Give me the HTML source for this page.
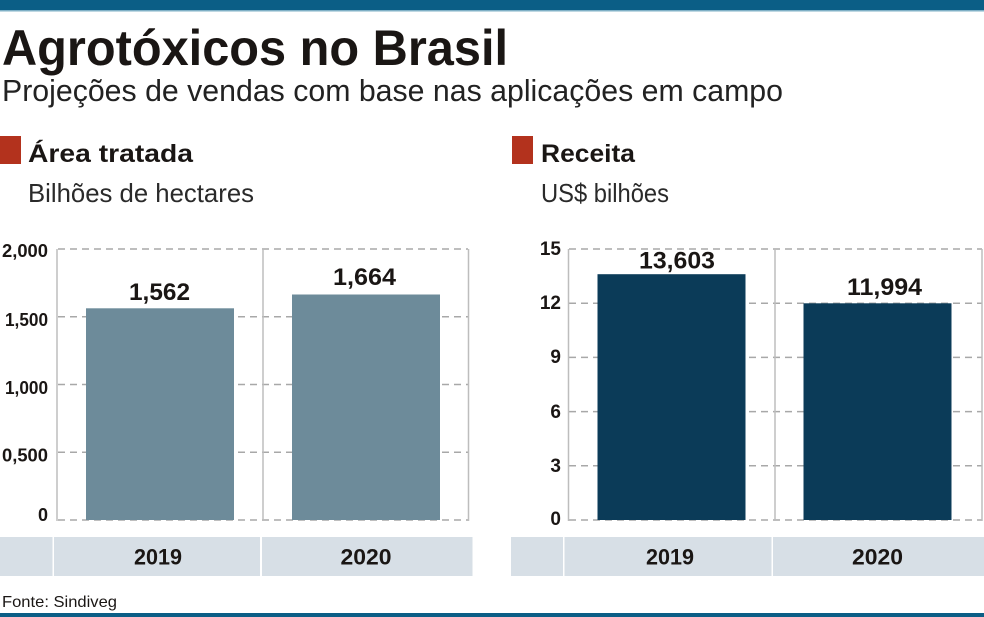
<!DOCTYPE html>
<html><head><meta charset="utf-8"><style>
html,body{margin:0;padding:0;background:#fff;}
svg{display:block;}
text{font-family:"Liberation Sans",Arial,sans-serif;}
</style></head><body>
<svg width="984" height="617" viewBox="0 0 984 617" xmlns="http://www.w3.org/2000/svg">
<rect x="0" y="0" width="984" height="617" fill="#fff"/>
<rect x="0" y="0" width="984" height="10" fill="#0b5e86"/>
<rect x="0" y="10" width="984" height="1.5" fill="#7fb0c6"/>
<rect x="0" y="613" width="984" height="4" fill="#0b5e86"/>

<text x="2" y="65" font-size="50" font-weight="bold" fill="#1a1614" textLength="506" lengthAdjust="spacingAndGlyphs">Agrotóxicos no Brasil</text>
<text x="2" y="101" font-size="31" fill="#222" textLength="781" lengthAdjust="spacingAndGlyphs">Projeções de vendas com base nas aplicações em campo</text>

<rect x="0" y="136" width="21" height="28" fill="#b3321d"/>
<text x="28" y="162" font-size="25" font-weight="bold" fill="#1a1614" textLength="165" lengthAdjust="spacingAndGlyphs">Área tratada</text>
<text x="28" y="202" font-size="26" fill="#2a2a2a" textLength="226" lengthAdjust="spacingAndGlyphs">Bilhões de hectares</text>

<rect x="512" y="136" width="21" height="28" fill="#b3321d"/>
<text x="541" y="162" font-size="25" font-weight="bold" fill="#1a1614" textLength="94" lengthAdjust="spacingAndGlyphs">Receita</text>
<text x="541" y="202" font-size="26" fill="#2a2a2a" textLength="128" lengthAdjust="spacingAndGlyphs">US$ bilhões</text>

<!-- LEFT CHART -->
<g stroke="#a8a8a8" stroke-width="1.5" stroke-dasharray="7,5" fill="none">
<line x1="58" y1="249" x2="468" y2="249"/>
<line x1="58" y1="316.75" x2="468" y2="316.75"/>
<line x1="58" y1="384.5" x2="468" y2="384.5"/>
<line x1="58" y1="452.25" x2="468" y2="452.25"/>
<line x1="58" y1="520" x2="468" y2="520"/>
</g>
<g stroke="#bdbdbd" stroke-width="1.5">
<line x1="57" y1="249" x2="57" y2="521"/>
<line x1="263" y1="249" x2="263" y2="521"/>
<line x1="468.5" y1="249" x2="468.5" y2="521"/>
</g>
<rect x="86" y="308.3" width="148" height="211.7" fill="#6d8b9a"/>
<rect x="292" y="294.5" width="148" height="225.5" fill="#6d8b9a"/>
<g font-size="18" font-weight="bold" fill="#1a1614" text-anchor="end">
<text x="48" y="257" textLength="46" lengthAdjust="spacingAndGlyphs">2,000</text>
<text x="48" y="326" textLength="43" lengthAdjust="spacingAndGlyphs">1,500</text>
<text x="48" y="394" textLength="43" lengthAdjust="spacingAndGlyphs">1,000</text>
<text x="48" y="461.5" textLength="46" lengthAdjust="spacingAndGlyphs">0,500</text>
<text x="48" y="521">0</text>
</g>
<g font-size="24" font-weight="bold" fill="#1a1614">
<text x="129" y="300" textLength="61" lengthAdjust="spacingAndGlyphs">1,562</text>
<text x="333" y="285" textLength="63" lengthAdjust="spacingAndGlyphs">1,664</text>
</g>
<rect x="0" y="537" width="52.5" height="39" fill="#d7dfe6"/>
<rect x="54" y="537" width="206" height="39" fill="#d7dfe6"/>
<rect x="262" y="537" width="210.5" height="39" fill="#d7dfe6"/>
<g font-size="22" font-weight="bold" fill="#1a1614">
<text x="134" y="564.5" textLength="48" lengthAdjust="spacingAndGlyphs">2019</text>
<text x="340.5" y="564.5" textLength="51" lengthAdjust="spacingAndGlyphs">2020</text>
</g>
<text x="2" y="607" font-size="16" fill="#1a1614" textLength="115" lengthAdjust="spacingAndGlyphs">Fonte: Sindiveg</text>

<!-- RIGHT CHART -->
<g stroke="#a8a8a8" stroke-width="1.5" stroke-dasharray="7,5" fill="none">
<line x1="569" y1="249" x2="982" y2="249"/>
<line x1="569" y1="303.2" x2="982" y2="303.2"/>
<line x1="569" y1="357.4" x2="982" y2="357.4"/>
<line x1="569" y1="411.6" x2="982" y2="411.6"/>
<line x1="569" y1="465.8" x2="982" y2="465.8"/>
<line x1="569" y1="520" x2="982" y2="520"/>
</g>
<g stroke="#bdbdbd" stroke-width="1.5">
<line x1="568.5" y1="249" x2="568.5" y2="521"/>
<line x1="775" y1="249" x2="775" y2="521"/>
<line x1="982" y1="249" x2="982" y2="521"/>
</g>
<rect x="597.5" y="274.2" width="148" height="245.8" fill="#0b3b58"/>
<rect x="803.5" y="303.3" width="148" height="216.7" fill="#0b3b58"/>
<g font-size="19" font-weight="bold" fill="#1a1614" text-anchor="end">
<text x="561" y="255">15</text>
<text x="561" y="309">12</text>
<text x="561" y="363">9</text>
<text x="561" y="418">6</text>
<text x="561" y="472">3</text>
<text x="561" y="525">0</text>
</g>
<g font-size="24" font-weight="bold" fill="#1a1614">
<text x="639" y="268.5" textLength="76" lengthAdjust="spacingAndGlyphs">13,603</text>
<text x="847" y="295" textLength="75" lengthAdjust="spacingAndGlyphs">11,994</text>
</g>
<rect x="511" y="537" width="52" height="39" fill="#d7dfe6"/>
<rect x="564.5" y="537" width="207" height="39" fill="#d7dfe6"/>
<rect x="773" y="537" width="211" height="39" fill="#d7dfe6"/>
<g font-size="22" font-weight="bold" fill="#1a1614">
<text x="646" y="564.5" textLength="48" lengthAdjust="spacingAndGlyphs">2019</text>
<text x="852" y="564.5" textLength="51" lengthAdjust="spacingAndGlyphs">2020</text>
</g>
</svg>
</body></html>
